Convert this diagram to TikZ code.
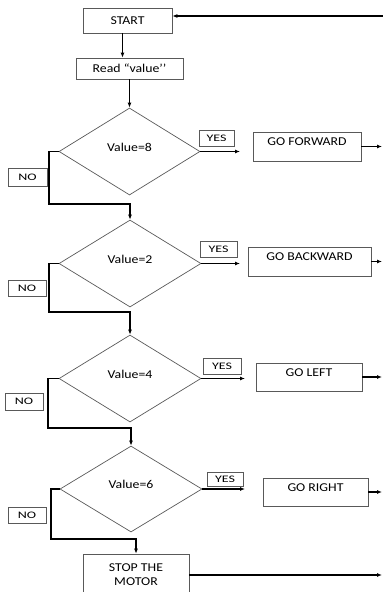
\documentclass[tikz,border=0pt]{standalone}
\usepackage{fontspec}
\setmainfont[FakeStretch=1.15]{Carlito}
\newfontfamily\yesnofont[FakeStretch=1.4]{Carlito}
\usetikzlibrary{shapes.geometric,arrows.meta}
\tikzset{
  box/.style={draw=black!65, line width=0.7pt, inner sep=0pt, font=\fontsize{12}{14}\selectfont},
  actbox/.style={box, text depth=9pt},
  decide/.style={diamond, aspect=1, draw=black!65, line width=0.7pt, inner sep=0pt, text depth=9pt, font=\fontsize{12}{14}\selectfont},
  tag/.style={draw=black!65, line width=0.7pt, inner sep=0pt, font=\yesnofont\fontsize{10}{12}\selectfont},
  flow/.style={line width=1.1pt, -{Latex[length=5pt,width=4pt]}},
  noflow/.style={line width=1.6pt, -{Latex[length=5pt,width=4pt]}},
}
\begin{document}
\begin{tikzpicture}[x=1pt,y=1pt]
\useasboundingbox (0,0) rectangle (383,-592);
\node[box, minimum width=89, minimum height=25] (start) at (127.5,-20.5) {START};
\node[box, minimum width=107, minimum height=21] (read) at (129.5,-68.5) {Read “value’’};

\node[decide, minimum width=141, minimum height=87] (dec8) at (129.5,-151.5) {Value=8};
\node[decide, minimum width=142, minimum height=87] (dec2) at (130,-263.5) {Value=2};
\node[decide, minimum width=142, minimum height=87] (dec4) at (130,-378.5) {Value=4};
\node[decide, minimum width=142, minimum height=86] (dec6) at (131,-489) {Value=6};

\node[tag, minimum width=35, minimum height=16] (yes8) at (216.5,-138) {YES};
\node[tag, minimum width=37, minimum height=16] (yes2) at (218.5,-249) {YES};
\node[tag, minimum width=38, minimum height=16] (yes4) at (222,-366) {YES};
\node[tag, minimum width=36, minimum height=14] (yes6) at (225,-479) {YES};

\node[tag, minimum width=39, minimum height=18] (no8) at (27.5,-177) {NO};
\node[tag, minimum width=38, minimum height=16] (no2) at (27,-288) {NO};
\node[tag, minimum width=38, minimum height=17] (no4) at (24,-401.5) {NO};
\node[tag, minimum width=38, minimum height=16] (no6) at (27,-515) {NO};

\node[actbox, minimum width=108, minimum height=29] (gofwd) at (307,-146.5) {GO FORWARD};
\node[actbox, minimum width=123, minimum height=29] (goback) at (309.5,-261.5) {GO BACKWARD};
\node[actbox, minimum width=106, minimum height=28] (goleft) at (309,-377) {GO LEFT};
\node[actbox, minimum width=105, minimum height=28] (goright) at (315.5,-492) {GO RIGHT};
\node[box, align=center, minimum width=106, minimum height=42] (stop) at (136,-575) {STOP THE\\MOTOR};

% loose ends
\coordinate (loop) at (383,-16);
\coordinate (outr) at (382,0);
\coordinate (yend8) at (240,-151.5);
\coordinate (yend2) at (240,-263.5);
\coordinate (yend4) at (245,-378.5);
\coordinate (yend6) at (245,-489);
\coordinate (bend8) at (49,-204);
\coordinate (bend2) at (49,-312);
\coordinate (bend4) at (48,-428);
\coordinate (bend6) at (51,-539);

\draw[flow] (loop) -- (loop -| start.east);
\draw[flow] ([xshift=-5]start.south) -- ([xshift=-5]start.south |- read.north);
\draw[flow] (read.south) -- (dec8.north);

\draw[flow] (dec8.east) -- (yend8);
\draw[flow] (dec2.east) -- (yend2);
\draw[flow] (dec4.east) -- (yend4);
\draw[flow] (dec6.east) -- (yend6);

\draw[flow] (gofwd.east) -- (gofwd.east -| outr);
\draw[flow] (goback.east) -- (goback.east -| outr);
\draw[flow] (goleft.east) -- (goleft.east -| outr);
\draw[flow] (goright.east) -- (goright.east -| outr);
\draw[flow] (stop.east) -- (stop.east -| outr);

\draw[noflow] (dec8.west) -| (bend8) -| (dec2.north);
\draw[noflow] (dec2.west) -| (bend2) -| (dec4.north);
\draw[noflow] (dec4.west) -| (bend4) -| (dec6.north);
\draw[noflow] (dec6.west) -| (bend6) -| (stop.north);
\end{tikzpicture}
\end{document}
